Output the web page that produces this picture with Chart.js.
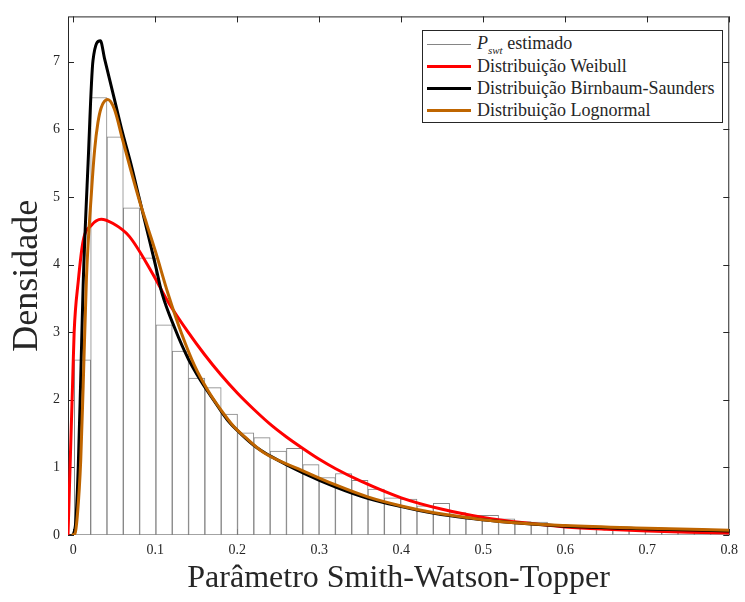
<!DOCTYPE html>
<html>
<head>
<meta charset="utf-8">
<script src="https://cdn.jsdelivr.net/npm/chart.js@4"></script>
<style>
  body { margin: 0; background: #fff; }
  #wrap { position: relative; width: 745px; height: 602px; }
  #legend {
    position: absolute; left: 422px; top: 30px; width: 301px; height: 93px;
    border: 1px solid #262626; background: #fff; box-sizing: border-box;
    font-family: "Liberation Serif", "Times New Roman", serif; font-size: 18px; color: #262626;
    padding-top: 2px;
  }
  #legend .row { display: flex; align-items: center; height: 22px; white-space: nowrap; }
  #legend .sw { display: inline-block; width: 44px; margin-left: 4px; margin-right: 6px; }
  #legend sub { font-size: 11px; }
</style>
</head>
<body>
<div id="wrap">
  <canvas id="chart" width="745" height="602"></canvas>
  <div id="legend"></div>
</div>
<script>
// histograma (centros das classes e densidade)
const binCenters = [0.0112, 0.0311, 0.0510, 0.0709, 0.0908, 0.1107, 0.1306, 0.1505, 0.1704, 0.1903,
  0.2102, 0.2301, 0.2500, 0.2699, 0.2898, 0.3097, 0.3296, 0.3495, 0.3694, 0.3893,
  0.4092, 0.4291, 0.4490, 0.4689, 0.4888, 0.5087, 0.5286, 0.5485, 0.5684, 0.5883,
  0.6082, 0.6281, 0.6480, 0.6679, 0.6878, 0.7077, 0.7276, 0.7475, 0.7674, 0.7873, 0.8072];
const densityValues = [2.59, 6.47, 5.89, 4.84, 4.10, 3.11, 2.72, 2.32, 2.18, 1.79,
  1.51, 1.44, 1.24, 1.28, 1.04, 0.85, 0.91, 0.81, 0.68, 0.55,
  0.53, 0.43, 0.47, 0.33, 0.29, 0.29, 0.24, 0.20, 0.19, 0.15,
  0.13, 0.12, 0.10, 0.09, 0.08, 0.07, 0.06, 0.06, 0.05, 0.05, 0.04];

// curvas ajustadas
const weibullX = [-0.0065, -0.004, -0.001, 0.001, 0.006, 0.012, 0.022, 0.034, 0.048, 0.068, 0.096, 0.116, 0.14, 0.16, 0.18, 0.2, 0.22, 0.24, 0.26, 0.28, 0.3, 0.32, 0.35, 0.4, 0.45, 0.5, 0.55, 0.6, 0.65, 0.7, 0.75, 0.8];
const weibullY = [0, 1.0, 2.2, 3.0, 3.75, 4.35, 4.58, 4.67, 4.61, 4.42, 3.88, 3.44, 3.0, 2.67, 2.37, 2.1, 1.86, 1.64, 1.45, 1.28, 1.12, 0.98, 0.8, 0.55, 0.38, 0.26, 0.18, 0.12, 0.085, 0.06, 0.04, 0.03];

const bsX = [0, 0.003, 0.006, 0.009, 0.012, 0.018, 0.024, 0.033, 0.038, 0.044, 0.05, 0.06, 0.07, 0.08, 0.09, 0.1, 0.108, 0.124, 0.14, 0.156, 0.172, 0.188, 0.204, 0.224, 0.24, 0.28, 0.32, 0.36, 0.4, 0.44, 0.48, 0.52, 0.6, 0.7, 0.8];
const bsY = [0, 0.2, 1.0, 2.3, 3.7, 5.5, 7.02, 7.31, 7.05, 6.75, 6.45, 5.95, 5.5, 5.0, 4.5, 4.0, 3.58, 3.05, 2.61, 2.27, 1.98, 1.7, 1.5, 1.29, 1.17, 0.92, 0.71, 0.54, 0.42, 0.32, 0.25, 0.2, 0.13, 0.09, 0.06];

const lognX = [-0.002, 0.002, 0.005, 0.009, 0.012, 0.016, 0.022, 0.026, 0.03, 0.034, 0.042, 0.05, 0.06, 0.07, 0.08, 0.09, 0.1, 0.116, 0.132, 0.148, 0.164, 0.18, 0.196, 0.212, 0.232, 0.28, 0.32, 0.36, 0.4, 0.44, 0.48, 0.52, 0.6, 0.7, 0.8];
const lognY = [0, 0.02, 0.3, 1.1, 2.2, 3.8, 5.05, 5.7, 6.1, 6.32, 6.44, 6.3, 5.85, 5.4, 4.97, 4.58, 4.2, 3.55, 2.98, 2.5, 2.14, 1.85, 1.6, 1.42, 1.22, 0.95, 0.74, 0.56, 0.43, 0.33, 0.26, 0.2, 0.14, 0.1, 0.07];

const xTicks = [0, 0.1, 0.2, 0.3, 0.4, 0.5, 0.6, 0.7, 0.8];
const yTicks = [0, 1, 2, 3, 4, 5, 6, 7];

const legendLabels = ['<i>P</i><sub><i>swt</i></sub> estimado', 'Distribuição Weibull', 'Distribuição Birnbaum-Saunders', 'Distribuição Lognormal'];
const legendColors = ['#858585', '#ff0000', '#000000', '#bf6500'];
const legendWidths = [1, 3, 3, 3];

const axisColor = '#262626';
const serif = 'Liberation Serif';

function toPoints(xs, ys) {
  return xs.map((x, i) => ({ x: x, y: ys[i] }));
}

// caixa do gráfico e marcas dos eixos para dentro
const boxPlugin = {
  id: 'box',
  beforeDatasetsDraw(chart) {
    const { ctx, chartArea: a, scales: { x, y } } = chart;
    ctx.save();
    ctx.strokeStyle = axisColor;
    ctx.lineWidth = 1;
    ctx.strokeRect(a.left + 0.5, a.top + 0.5, a.right - a.left - 1, a.bottom - a.top - 1);
    ctx.beginPath();
    xTicks.forEach(v => {
      const px = Math.round(x.getPixelForValue(v)) + 0.5;
      ctx.moveTo(px, a.bottom); ctx.lineTo(px, a.bottom - 6);
      ctx.moveTo(px, a.top); ctx.lineTo(px, a.top + 6);
    });
    yTicks.forEach(v => {
      const py = Math.round(y.getPixelForValue(v)) + 0.5;
      ctx.moveTo(a.left, py); ctx.lineTo(a.left + 6, py);
      ctx.moveTo(a.right, py); ctx.lineTo(a.right - 6, py);
    });
    ctx.stroke();
    ctx.restore();
  }
};

const lineDefaults = { type: 'line', pointRadius: 0, borderWidth: 3, fill: false, cubicInterpolationMode: 'monotone' };

new Chart(document.getElementById('chart'), {
  type: 'bar',
  data: {
    datasets: [
      Object.assign({}, lineDefaults, { label: 'Distribuição Lognormal', data: toPoints(lognX, lognY), borderColor: legendColors[3], order: 1 }),
      Object.assign({}, lineDefaults, { label: 'Distribuição Birnbaum-Saunders', data: toPoints(bsX, bsY), borderColor: legendColors[2], order: 2 }),
      Object.assign({}, lineDefaults, { label: 'Distribuição Weibull', data: toPoints(weibullX, weibullY), borderColor: legendColors[1], order: 3 }),
      {
        type: 'bar', label: 'Pswt estimado', data: toPoints(binCenters, densityValues),
        backgroundColor: '#ffffff', borderColor: legendColors[0], borderWidth: 1, borderSkipped: false,
        barPercentage: 1, categoryPercentage: 1, order: 4
      }
    ]
  },
  options: {
    responsive: false,
    animation: false,
    layout: { padding: { top: 11, right: 5, left: 0, bottom: 0 } },
    plugins: { legend: { display: false }, tooltip: { enabled: false } },
    scales: {
      x: {
        type: 'linear', min: -0.0065, max: 0.8, offset: false,
        grid: { display: false, drawTicks: false, offset: false }, border: { display: false },
        afterBuildTicks: s => { s.ticks = xTicks.map(v => ({ value: v })); },
        afterFit: s => { s.height = 67; },
        ticks: { padding: 7, maxRotation: 0, autoSkip: false, color: axisColor, font: { family: serif, size: 14 }, callback: v => String(v) },
        title: { display: true, text: 'Parâmetro Smith-Watson-Topper', color: axisColor, font: { family: serif, size: 32, lineHeight: 1 }, padding: { top: 0, bottom: 7 } }
      },
      y: {
        min: 0, max: 7.67,
        grid: { display: false, drawTicks: false }, border: { display: false },
        afterBuildTicks: s => { s.ticks = yTicks.map(v => ({ value: v })); },
        afterFit: s => { s.width = 68; },
        ticks: { padding: 8, color: axisColor, font: { family: serif, size: 14 } },
        title: { display: true, text: 'Densidade', color: axisColor, font: { family: serif, size: 36, lineHeight: 1 }, padding: { top: 10, bottom: 0 } }
      }
    }
  },
  plugins: [boxPlugin]
});

// legenda em HTML (permite o subscrito)
const legend = document.getElementById('legend');
legendLabels.forEach((lab, i) => {
  const row = document.createElement('div');
  row.className = 'row';
  row.innerHTML = '<span class="sw" style="border-top:' + legendWidths[i] + 'px solid ' + legendColors[i] + '"></span><span>' + lab + '</span>';
  legend.appendChild(row);
});
</script>
</body>
</html>
